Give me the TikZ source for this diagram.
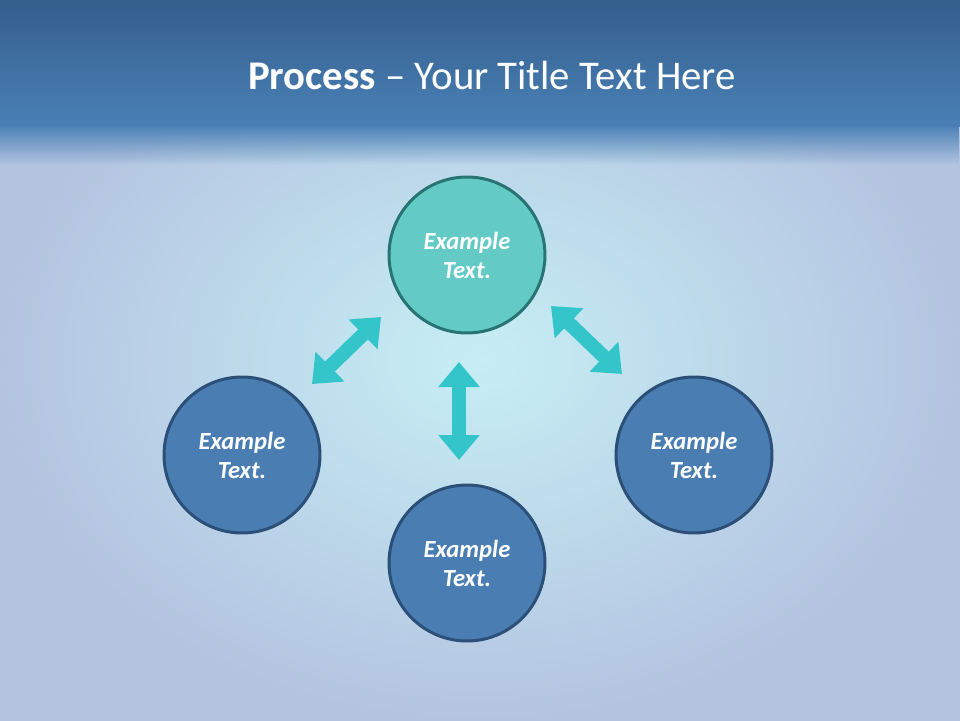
\documentclass[tikz,border=0pt]{standalone}
\usepackage{fontspec}
\setmainfont{Carlito}
\usetikzlibrary{arrows.meta,fadings}
\definecolor{headtop}{HTML}{345E8C}
\definecolor{headbot}{HTML}{4A80B6}
\definecolor{bgmid}{HTML}{C6EEF5}
\definecolor{bgout}{HTML}{B4C4E0}
\definecolor{tealfill}{HTML}{63CAC6}
\definecolor{tealline}{HTML}{277472}
\definecolor{bluefill}{HTML}{4A7EB3}
\definecolor{blueline}{HTML}{2C4F78}
\definecolor{arrowcol}{HTML}{33C5CA}
\begin{document}
\begin{tikzpicture}[x=0.02cm, y=-0.02cm,
  stepball/.style={circle, draw=blueline, fill=bluefill, line width=1.7pt,
    minimum size=3.12cm, inner sep=0pt, align=center, text=white,
    font=\fontsize{14}{16.5}\selectfont\bfseries\itshape},
  tealball/.style={stepball, draw=tealline, fill=tealfill},
  dblarrow/.style={draw=arrowcol, line width=0.28cm,
    {Triangle[width=0.8cm,length=0.5cm]}-{Triangle[width=0.8cm,length=0.5cm]}}]
\useasboundingbox (0,0) rectangle (960,720);
% background and title bar
\shade[inner color=bgmid, outer color=bgout] (0,0) rectangle (960,720);
\shade[top color=headtop, bottom color=headbot] (0,0) rectangle (960,126);
\fill[headbot, path fading=south] (0,125) rectangle (960,165);
\node[text=white, font=\fontsize{23.2}{28}\selectfont] (title) at (492,75)
  {\textbf{Process} – Your Title Text Here};
% circles
\node[tealball] (top) at (467,255) {Example\\Text.};
\node[stepball] (left) at (242,455) {Example\\Text.};
\node[stepball] (right) at (694,455) {Example\\Text.};
\node[stepball] (bottom) at (467,563) {Example\\Text.};
% arrows
\coordinate (la) at (312,384);
\coordinate (lb) at (381,317);
\coordinate (ra) at (551,306);
\coordinate (rb) at (622,374);
\coordinate (ma) at (459,362);
\coordinate (mb) at (459,460);
\draw[dblarrow] (la) -- (lb);
\draw[dblarrow] (ra) -- (rb);
\draw[dblarrow] (ma) -- (mb);
\end{tikzpicture}
\end{document}
